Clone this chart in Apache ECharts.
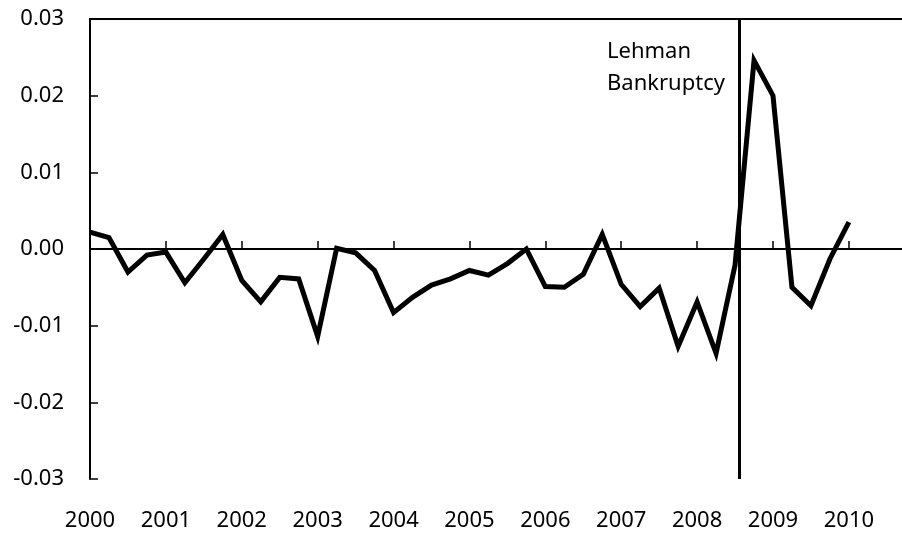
<!DOCTYPE html>
<html lang="en">
<head>
    <meta charset="UTF-8">
    <title>Lehman</title>
    <script src="https://cdn.jsdelivr.net/npm/echarts@6/dist/echarts.min.js"></script>
    <style>
        html, body { margin: 0; padding: 0; background: #fff; }
        #main { width: 902px; height: 536px; }
    </style>
</head>
<body>
<div id="main"></div>

<script type="text/javascript">
    // quarterly observations, 2000Q1 .. 2010Q1
    var startYear = 2000;
    var values = [
        0.0022, 0.0015, -0.0030, -0.0008, -0.0004, -0.0044, -0.0013, 0.0019,
        -0.0041, -0.0069, -0.0037, -0.0039, -0.0114, 0.0001, -0.0005, -0.0028,
        -0.0083, -0.0063, -0.0047, -0.0039, -0.0028, -0.0034, -0.0019, 0.0000,
        -0.0049, -0.0050, -0.0033, 0.0019, -0.0046, -0.0075, -0.0051, -0.0127,
        -0.0069, -0.0136, -0.0021, 0.0246, 0.0200, -0.0050, -0.0074, -0.0013,
        0.0035
    ];
    var lehmanDate = 2008.55;
    var lehmanText = ['Lehman', 'Bankruptcy'];

    var points = values.map(function (v, i) {
        return [startYear + i * 0.25, v];
    });

    var font = '"Noto Sans", "Open Sans", sans-serif';
    var chart = echarts.init(document.getElementById('main'));

    var option = {
        animation: false,
        textStyle: { fontFamily: font },
        grid: { left: 90, right: 0, top: 19, bottom: 57 },
        xAxis: [{
            type: 'value',
            min: 2000,
            max: 2010.7,
            interval: 1,
            axisLine: { lineStyle: { color: '#000', width: 2 } },
            axisTick: { inside: true, length: 8, lineStyle: { color: '#000', width: 1.5 } },
            axisLabel: {
                color: '#000', fontSize: 22, fontFamily: font, margin: 31,
                showMaxLabel: false,
                formatter: function (v) { return v % 1 === 0 ? String(v) : ''; }
            },
            splitLine: { show: false }
        }, {
            type: 'value',
            position: 'top',
            min: 2000,
            max: 2010.7,
            axisLine: { lineStyle: { color: '#000', width: 2 } },
            axisTick: { show: false },
            axisLabel: { show: false },
            splitLine: { show: false }
        }],
        yAxis: {
            type: 'value',
            min: -0.03,
            max: 0.03,
            interval: 0.01,
            axisLine: { show: true, lineStyle: { color: '#000', width: 2 } },
            axisTick: { show: true, inside: true, length: 8, lineStyle: { color: '#000', width: 1.5 } },
            axisLabel: {
                color: '#000', fontSize: 22, fontFamily: font, margin: 26,
                formatter: function (v) { return v.toFixed(2); }
            },
            splitLine: { show: false }
        },
        series: [{
            type: 'line',
            data: points,
            showSymbol: false,
            lineStyle: { color: '#000', width: 5, join: 'miter' },
            markLine: {
                silent: true,
                symbol: 'none',
                label: { show: false },
                data: [
                    { yAxis: 0, lineStyle: { color: '#000', width: 2, type: 'solid' } },
                    { xAxis: lehmanDate, lineStyle: { color: '#000', width: 3, type: 'solid' } }
                ]
            }
        }],
        graphic: [{
            type: 'text',
            left: 607,
            top: 36,
            style: {
                text: lehmanText.join('\n'),
                fill: '#000',
                font: '22px ' + font,
                lineHeight: 32
            }
        }]
    };

    chart.setOption(option);
</script>
</body>
</html>
